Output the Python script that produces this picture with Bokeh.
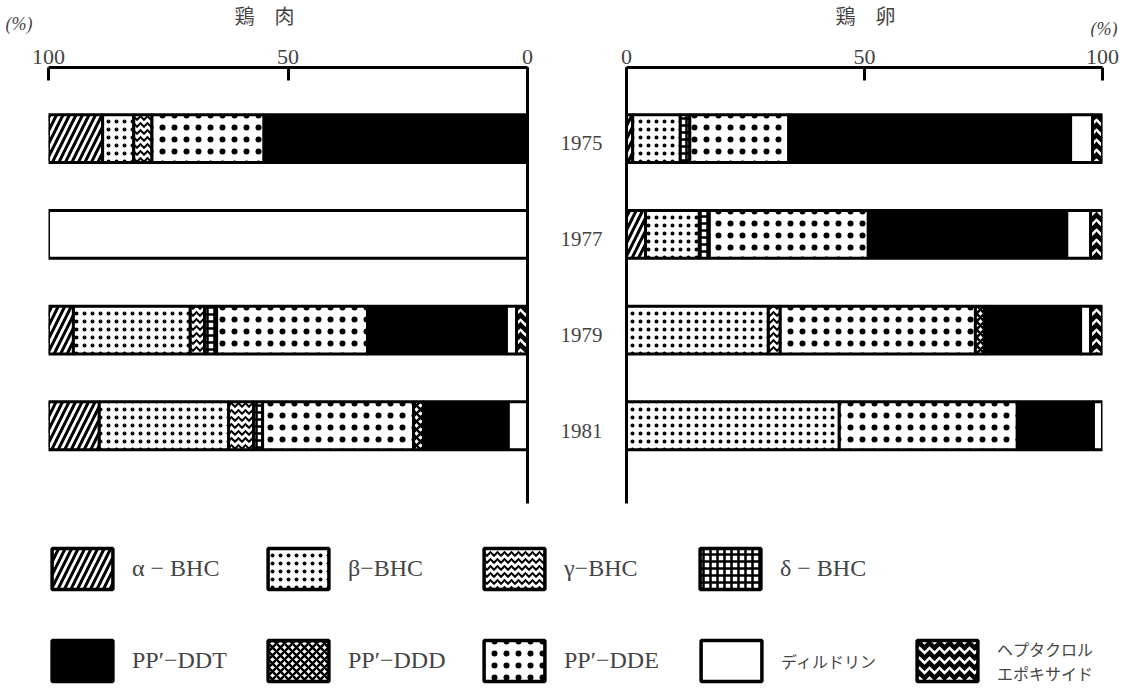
import numpy as np
from bokeh.plotting import figure
from bokeh.models import (Range1d, FixedTicker, ColumnDataSource, Label, Legend, LegendItem)
from bokeh.layouts import column, row
from bokeh.transform import dodge
from bokeh.core.properties import value
from bokeh.embed import file_html
from bokeh.resources import INLINE

# ---------------- data ----------------
years = ["1975", "1977", "1979", "1981"]
x_ticks = [0, 50, 100]

compound_keys = ["alpha", "beta", "gamma", "delta", "dde", "ddd", "ddt", "dieldrin", "hepta"]
compound_labels = {
    "alpha": "α − BHC", "beta": "β−BHC", "gamma": "γ−BHC", "delta": "δ − BHC",
    "ddt": "PP′−DDT", "ddd": "PP′−DDD", "dde": "PP′−DDE",
    "dieldrin": "ディルドリン", "hepta": "ヘプタクロル\nエポキサイド",
}

# 鶏肉 (chicken meat), composition in % per year
meat_alpha    = [11.3, 0.0, 5.2, 10.6]
meat_beta     = [6.5, 0.0, 24.4, 27.0]
meat_gamma    = [3.8, 0.0, 3.0, 5.2]
meat_delta    = [0.0, 0.0, 2.5, 1.9]
meat_dde      = [23.4, 0.0, 31.5, 31.5]
meat_ddd      = [0.0, 0.0, 0.0, 2.1]
meat_ddt      = [55.0, 0.0, 29.0, 17.7]
meat_dieldrin = [0.0, 100.0, 2.1, 4.0]
meat_hepta    = [0.0, 0.0, 2.3, 0.0]

# 鶏卵 (hen eggs), composition in % per year
egg_alpha    = [1.3, 4.0, 0.0, 0.0]
egg_beta     = [10.0, 11.3, 29.8, 44.7]
egg_gamma    = [0.0, 0.0, 2.5, 0.0]
egg_delta    = [2.0, 2.1, 0.0, 0.0]
egg_dde      = [20.8, 33.4, 41.0, 37.4]
egg_ddd      = [0.0, 0.0, 1.9, 0.0]
egg_ddt      = [59.2, 41.7, 20.2, 16.0]
egg_dieldrin = [4.6, 5.0, 2.1, 1.9]
egg_hepta    = [2.1, 2.5, 2.5, 0.0]

meat = dict(alpha=meat_alpha, beta=meat_beta, gamma=meat_gamma, delta=meat_delta,
            dde=meat_dde, ddd=meat_ddd, ddt=meat_ddt, dieldrin=meat_dieldrin, hepta=meat_hepta)
egg = dict(alpha=egg_alpha, beta=egg_beta, gamma=egg_gamma, delta=egg_delta,
           dde=egg_dde, ddd=egg_ddd, ddt=egg_ddt, dieldrin=egg_dieldrin, hepta=egg_hepta)

# ---------------- styles ----------------
SERIF = "'Liberation Serif', 'DejaVu Serif', 'Noto Sans CJK JP'"
CJK = "'Noto Sans CJK JP'"

styles = {
    "alpha": dict(fill_color="white", hatch_pattern="right_diagonal_line", hatch_color="black",
                  hatch_scale=13, hatch_weight=3),
    "beta": dict(fill_color="white", hatch_pattern="dot", hatch_color="black",
                 hatch_scale=8, hatch_weight=0.5),
    "gamma": dict(fill_color="white", hatch_pattern="horizontal_wave", hatch_color="black",
                  hatch_scale=7, hatch_weight=2),
    "delta": dict(fill_color="white", hatch_pattern="cross", hatch_color="black",
                  hatch_scale=7, hatch_weight=2.5),
    "ddt": dict(fill_color="black"),
    "ddd": dict(fill_color="white", hatch_pattern="diagonal_cross", hatch_color="black",
                hatch_scale=8, hatch_weight=2.5),
    "dde": dict(fill_color="white", hatch_pattern="dot", hatch_color="black",
                hatch_scale=12, hatch_weight=1),
    "dieldrin": dict(fill_color="white"),
    "hepta": dict(fill_color="black", hatch_pattern="horizontal_wave", hatch_color="white",
                  hatch_scale=10, hatch_weight=2.5),
}

BAR_H = 0.5
BAR_SHIFT = -0.05
y_pos = list(range(len(years)))


def style_top_axis(ax):
    ax.ticker = FixedTicker(ticks=x_ticks)
    ax.axis_line_width = 3
    ax.major_tick_line_width = 3
    ax.major_tick_in = 13
    ax.major_tick_out = 0
    ax.minor_tick_line_color = None
    ax.major_label_text_font = SERIF
    ax.major_label_text_font_size = "22px"
    ax.major_label_standoff = 4


def draw_panel(p, data, reverse):
    cum = [0.0] * len(years)
    for key in compound_keys:
        vals = data[key]
        ys, lefts, rights = [], [], []
        for i, v in enumerate(vals):
            if v > 0:
                s, e = cum[i], cum[i] + v
                if reverse:
                    s, e = 100 - e, 100 - s
                ys.append(y_pos[i]); lefts.append(s); rights.append(e)
                cum[i] += v
        if ys:
            src = ColumnDataSource(dict(y=ys, left=lefts, right=rights))
            p.hbar(y=dodge("y", BAR_SHIFT), left="left", right="right", height=BAR_H,
                   source=src, line_color="black", line_width=3, **styles[key])


y_top = -0.794
y_bot = 3.762

# ---------------- header (panel titles and units) ----------------
hdr = figure(width=1134, height=37, x_range=Range1d(0, 1), y_range=Range1d(0, 1),
             x_axis_location=None, y_axis_location=None,
             toolbar_location=None, output_backend="svg", min_border=0)
hdr.outline_line_color = None
hdr.grid.visible = False
for txt, x, y, align, font, size in [
    ("鶏　肉", 264, 22, "center", CJK, "20px"),
    ("(%)", 5, 14, "left", SERIF, "18px"),
    ("鶏　卵", 865, 22, "center", CJK, "20px"),
    ("(%)", 1090, 9, "left", SERIF, "18px"),
]:
    hdr.add_layout(Label(x=x, y=y, x_units="screen", y_units="screen", text=txt,
                         text_align=align, text_baseline="middle",
                         text_font=font, text_font_size=size,
                         text_font_style="italic" if txt == "(%)" else "normal"))

# ---------------- left panel: 鶏肉 ----------------
pl = figure(width=556, height=473, x_range=Range1d(100, 0), y_range=Range1d(y_bot, y_top),
            x_axis_location="above", y_axis_location="right",
            toolbar_location=None, output_backend="svg",
            min_border_left=48, min_border_right=29, min_border_top=30, min_border_bottom=7)
pl.outline_line_color = None
pl.grid.visible = False
style_top_axis(pl.xaxis[0])
ya = pl.yaxis[0]
ya.ticker = FixedTicker(ticks=[])
ya.axis_line_width = 3
ya.major_tick_line_color = None
ya.minor_tick_line_color = None
ya.major_tick_out = 0
ya.major_tick_in = 0
draw_panel(pl, meat, reverse=True)

# ---------------- right panel: 鶏卵 ----------------
pr = figure(width=578, height=473, x_range=Range1d(0, 100), y_range=Range1d(y_bot, y_top),
            x_axis_location="above", y_axis_location="left",
            toolbar_location=None, output_backend="svg",
            min_border_left=70, min_border_right=32, min_border_top=30, min_border_bottom=7)
pr.outline_line_color = None
pr.grid.visible = False
style_top_axis(pr.xaxis[0])
yb = pr.yaxis[0]
yb.ticker = FixedTicker(ticks=y_pos)
yb.major_label_overrides = {i: y for i, y in zip(y_pos, years)}
yb.axis_line_width = 3
yb.major_tick_line_color = None
yb.minor_tick_line_color = None
yb.major_tick_out = 0
yb.major_tick_in = 0
yb.major_label_standoff = 24
yb.major_label_text_font = SERIF
yb.major_label_text_font_size = "21px"
draw_panel(pr, egg, reverse=False)

# ---------------- legend ----------------
lf = figure(width=1134, height=180, x_range=Range1d(0, 1), y_range=Range1d(0, 1),
            x_axis_location=None, y_axis_location=None,
            toolbar_location=None, output_backend="svg", min_border=0)
lf.outline_line_color = None
lf.grid.visible = False

swatch = {}
for key in compound_keys:
    # carrier glyph with a NaN row (never drawn): only its legend swatch shows
    src = ColumnDataSource(dict(y=np.array([np.nan]), left=np.array([np.nan]),
                                right=np.array([np.nan])))
    swatch[key] = lf.hbar(y="y", left="left", right="right", height=0.5, source=src,
                          line_color="black", line_width=3.5, **styles[key])


def make_legend(keys, loc, font, size):
    items = [LegendItem(label=value(compound_labels[k]), renderers=[swatch[k]]) for k in keys]
    return Legend(items=items, location=loc, orientation="horizontal",
                  glyph_width=76, glyph_height=51, label_standoff=12, label_width=118,
                  spacing=10, padding=0, margin=0, border_line_color=None,
                  background_fill_alpha=0, label_text_font=font, label_text_font_size=size)


lf.add_layout(make_legend(["alpha", "beta", "gamma", "delta"], (44, 96), SERIF, "24px"))
lf.add_layout(make_legend(["ddt", "ddd", "dde"], (44, 4), SERIF, "24px"))
lf.add_layout(make_legend(["dieldrin", "hepta"], (693, 4), CJK, "16px"))

layout = column(hdr, row(pl, pr), lf)

open("out.html", "w").write(file_html(layout, INLINE))
